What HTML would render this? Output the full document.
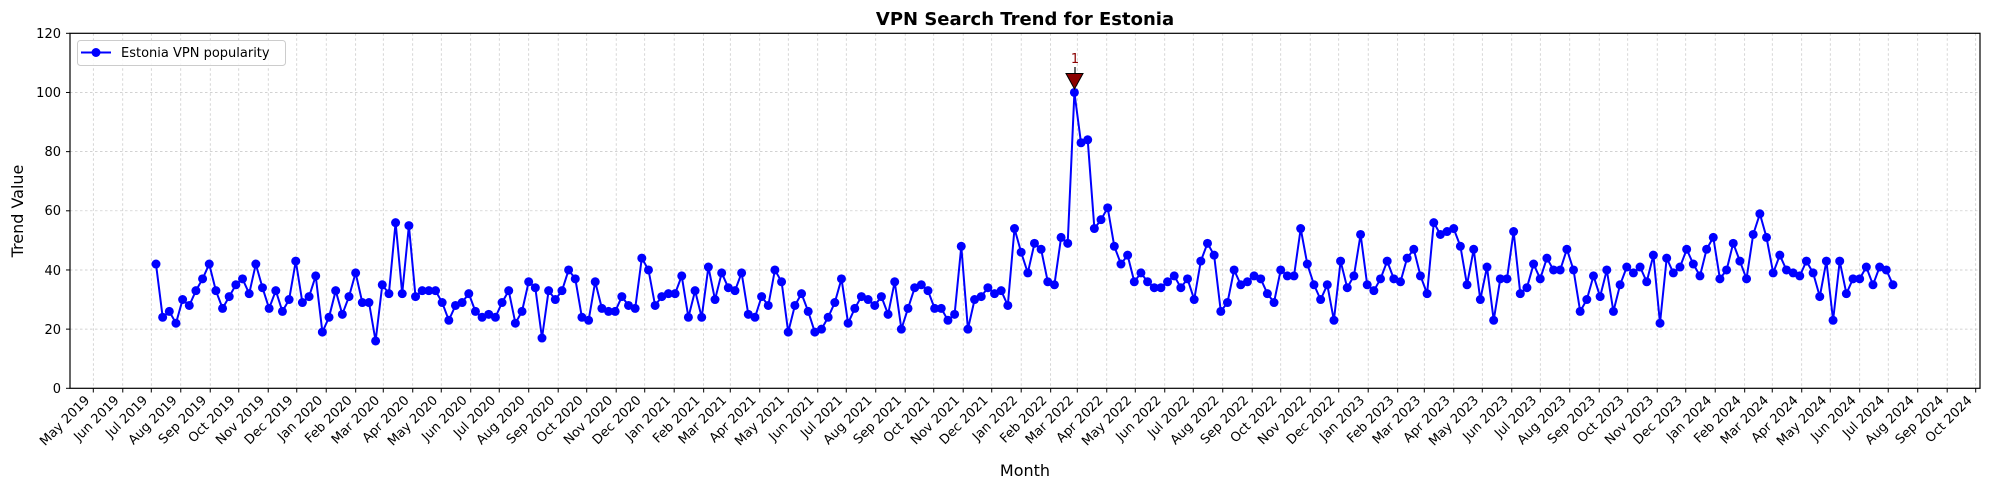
<!DOCTYPE html>
<html><head><meta charset="utf-8"><style>
body{margin:0;background:#fff}
svg{display:block;font-family:"DejaVu Sans","Liberation Sans",sans-serif}
</style></head><body>
<svg id="s" width="1990" height="490" xmlns="http://www.w3.org/2000/svg">
<rect width="1990" height="490" fill="#fff"/>
<g id="grid" stroke="#c4c4c4" stroke-width="0.7" stroke-dasharray="2.5,2.5"></g>
<g id="data"></g>
<rect x="70" y="33.3" width="1910" height="355" fill="none" stroke="#000" stroke-width="1.2"/>
<g id="ticks" stroke="#000" stroke-width="1"></g>
<g font-size="13" text-anchor="end" fill="#000">
<text x="61" y="393">0</text><text x="61" y="334">20</text><text x="61" y="275">40</text>
<text x="61" y="215">60</text><text x="61" y="156">80</text><text x="61" y="97">100</text><text x="61" y="38">120</text>
</g>
<g id="xl" font-size="13" text-anchor="end" fill="#000">
<text>May 2019</text><text>Jun 2019</text><text>Jul 2019</text><text>Aug 2019</text><text>Sep 2019</text><text>Oct 2019</text><text>Nov 2019</text><text>Dec 2019</text>
<text>Jan 2020</text><text>Feb 2020</text><text>Mar 2020</text><text>Apr 2020</text><text>May 2020</text><text>Jun 2020</text><text>Jul 2020</text><text>Aug 2020</text><text>Sep 2020</text><text>Oct 2020</text><text>Nov 2020</text><text>Dec 2020</text>
<text>Jan 2021</text><text>Feb 2021</text><text>Mar 2021</text><text>Apr 2021</text><text>May 2021</text><text>Jun 2021</text><text>Jul 2021</text><text>Aug 2021</text><text>Sep 2021</text><text>Oct 2021</text><text>Nov 2021</text><text>Dec 2021</text>
<text>Jan 2022</text><text>Feb 2022</text><text>Mar 2022</text><text>Apr 2022</text><text>May 2022</text><text>Jun 2022</text><text>Jul 2022</text><text>Aug 2022</text><text>Sep 2022</text><text>Oct 2022</text><text>Nov 2022</text><text>Dec 2022</text>
<text>Jan 2023</text><text>Feb 2023</text><text>Mar 2023</text><text>Apr 2023</text><text>May 2023</text><text>Jun 2023</text><text>Jul 2023</text><text>Aug 2023</text><text>Sep 2023</text><text>Oct 2023</text><text>Nov 2023</text><text>Dec 2023</text>
<text>Jan 2024</text><text>Feb 2024</text><text>Mar 2024</text><text>Apr 2024</text><text>May 2024</text><text>Jun 2024</text><text>Jul 2024</text><text>Aug 2024</text><text>Sep 2024</text><text>Oct 2024</text>
</g>
<text x="1025" y="25" font-size="18" font-weight="bold" text-anchor="middle">VPN Search Trend for Estonia</text>
<text x="1025" y="476" font-size="16" text-anchor="middle">Month</text>
<text transform="translate(23,211) rotate(-90)" font-size="16" text-anchor="middle">Trend Value</text>
<rect x="77.5" y="40.5" width="208" height="25" rx="3" fill="#fff" fill-opacity="0.8" stroke="#ccc"/>
<line x1="81" y1="52.5" x2="111" y2="52.5" stroke="#0000ff" stroke-width="2"/>
<circle cx="96" cy="52.5" r="4.5" fill="#0000ff"/>
<text x="121" y="57" font-size="13">Estonia VPN popularity</text>
<line x1="1075" y1="67" x2="1075" y2="74" stroke="#000" stroke-width="1.2"/>
<polygon points="1066,73.5 1083,73.5 1074.5,89" fill="#8b0000" stroke="#000" stroke-width="1"/>
<text x="1075" y="63" font-size="13" fill="#8b0000" text-anchor="middle">1</text>
</svg>
<script>
var v=[42,24,26,22,30,28,33,37,42,33,27,31,35,37,32,42,34,27,33,26,30,43,29,31,38,19,24,33,25,31,39,29,29,16,35,32,56,32,55,31,33,33,33,29,23,28,29,32,26,24,25,24,29,33,22,26,36,34,17,33,30,33,40,37,24,23,36,27,26,26,31,28,27,44,40,28,31,32,32,38,24,33,24,41,30,39,34,33,39,25,24,31,28,40,36,19,28,32,26,19,20,24,29,37,22,27,31,30,28,31,25,36,20,27,34,35,33,27,27,23,25,48,20,30,31,34,32,33,28,54,46,39,49,47,36,35,51,49,100,83,84,54,57,61,48,42,45,36,39,36,34,34,36,38,34,37,30,43,49,45,26,29,40,35,36,38,37,32,29,40,38,38,54,42,35,30,35,23,43,34,38,52,35,33,37,43,37,36,44,47,38,32,56,52,53,54,48,35,47,30,41,23,37,37,53,32,34,42,37,44,40,40,47,40,26,30,38,31,40,26,35,41,39,41,36,45,22,44,39,41,47,42,38,47,51,37,40,49,43,37,52,59,51,39,45,40,39,38,43,39,31,43,23,43,32,37,37,41,35,41,40,35];
var NS="http://www.w3.org/2000/svg";
function el(t,a,p){var e=document.createElementNS(NS,t);for(var k in a)e.setAttribute(k,a[k]);p.appendChild(e);return e;}
var g=document.getElementById("grid"),tk=document.getElementById("ticks"),d=document.getElementById("data");
function Y(val){return 388.3-val*2.9583;}
for(var i=1;i<6;i++){el("line",{x1:70,x2:1980,y1:Y(i*20),y2:Y(i*20)},g);}
for(i=0;i<=6;i++){el("line",{x1:66,x2:70,y1:Y(i*20),y2:Y(i*20)},tk);}
var days=0,xs=[];
var dim=[31,30,31,31,30,31,30,31,31,29,31,30,31,30,31,31,30,31,30,31,31,28,31,30,31,30,31,31,30,31,30,31,31,28,31,30,31,30,31,31,30,31,30,31,31,28,31,30,31,30,31,31,30,31,30,31,31,29,31,30,31,30,31,31,30];
for(i=0;i<66;i++){var x=93.3+days*0.95071;xs.push(x);if(i<65)days+=dim[i];}
var labs=document.getElementById("xl").children;
for(i=0;i<66;i++){var x=xs[i];
 el("line",{x1:x,x2:x,y1:33.3,y2:388.3},g);
 el("line",{x1:x,x2:x,y1:388.3,y2:392.5},tk);
 var ex=x-3,ey=401;
 var t=labs[i];t.setAttribute("x",ex);t.setAttribute("y",ey);t.setAttribute("transform","rotate(-45 "+ex+" "+ey+")");}
var pts=[];for(i=0;i<v.length;i++){pts.push((156+i*6.655).toFixed(1)+","+Y(v[i]).toFixed(1));}
el("polyline",{points:pts.join(" "),fill:"none",stroke:"#0000ff","stroke-width":2},d);
for(i=0;i<v.length;i++){el("circle",{cx:156+i*6.655,cy:Y(v[i]),r:4.5,fill:"#0000ff"},d);}
</script>
</body></html>
